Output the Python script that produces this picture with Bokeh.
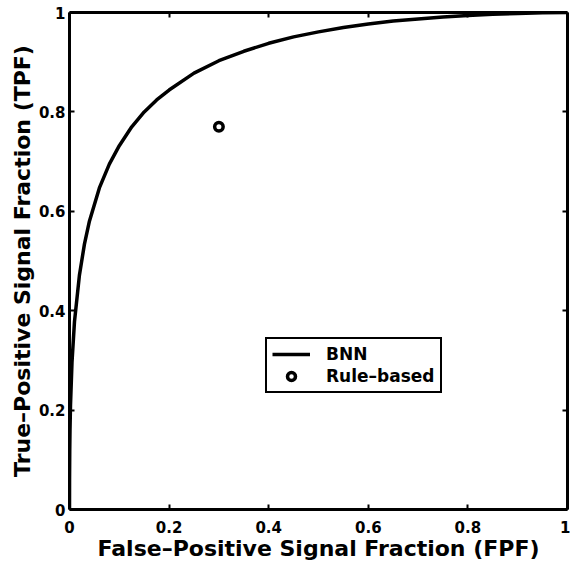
from bokeh.plotting import figure
from bokeh.models import LinearAxis, Legend, LegendItem, FixedTicker, Range1d
from bokeh.embed import file_html
from bokeh.resources import INLINE

# ---- data ----
bnn_fpf = [0.0, 0.0001, 0.0005, 0.001, 0.002, 0.005, 0.01, 0.02, 0.03, 0.04,
           0.06, 0.08, 0.10, 0.125, 0.15, 0.175, 0.20, 0.25, 0.30, 0.35,
           0.40, 0.45, 0.50, 0.55, 0.60, 0.65, 0.70, 0.75, 0.80, 0.85,
           0.90, 0.95, 1.0]
bnn_tpf = [0.0, 0.06, 0.12, 0.16, 0.21, 0.296, 0.378, 0.472, 0.534, 0.58,
           0.647, 0.695, 0.732, 0.77, 0.80, 0.824, 0.844, 0.878, 0.903, 0.922,
           0.938, 0.951, 0.961, 0.970, 0.977, 0.983, 0.987, 0.991, 0.994, 0.9964,
           0.9982, 0.9994, 1.0]
rule_fpf = [0.30]
rule_tpf = [0.77]
ticks = [0, 0.2, 0.4, 0.6, 0.8, 1]
tick_labels = ["0", "0.2", "0.4", "0.6", "0.8", "1"]
x_label = "False\u2013Positive Signal Fraction (FPF)"
y_label = "True\u2013Positive Signal Fraction (TPF)"
series_names = ["BNN", "Rule\u2013based"]

FONT = "DejaVu Sans"

p = figure(width=570, height=565, x_range=Range1d(0, 1), y_range=Range1d(0, 1),
           output_backend="svg", toolbar_location=None,
           x_axis_location=None, y_axis_location=None,
           min_border_left=69, min_border_right=3, min_border_top=12, min_border_bottom=56)
p.grid.visible = False
p.outline_line_color = None
p.background_fill_color = "white"
p.border_fill_color = "white"

overrides = {t: lab for t, lab in zip(ticks, tick_labels)}


def make_axis(label=None, show=True):
    ax = LinearAxis(ticker=FixedTicker(ticks=ticks), axis_label=label)
    ax.major_label_overrides = overrides
    ax.axis_line_width = 3
    ax.axis_line_color = "black"
    ax.major_tick_line_width = 2
    ax.major_tick_line_color = "black"
    ax.major_tick_in = 5
    ax.major_tick_out = 0
    ax.minor_tick_line_color = None
    if show:
        ax.major_label_text_font = FONT
        ax.major_label_text_font_style = "bold"
        ax.major_label_text_font_size = "15px"
        ax.major_label_text_color = "black"
        ax.axis_label_text_font = FONT
        ax.axis_label_text_font_style = "bold"
        ax.axis_label_text_font_size = "22px"
        ax.axis_label_text_color = "black"
    else:
        ax.major_label_text_font_size = "0px"
        ax.major_label_text_alpha = 0
        ax.major_label_standoff = 0
    return ax


bottom = make_axis(x_label)
bottom.major_label_standoff = 11
bottom.axis_label_standoff = 0
left = make_axis(y_label)
left.major_label_standoff = 4
left.axis_label_standoff = 1
top = make_axis(None, show=False)
right = make_axis(None, show=False)
p.add_layout(bottom, "below")
p.add_layout(left, "left")
p.add_layout(top, "above")
p.add_layout(right, "right")

r1 = p.line(bnn_fpf, bnn_tpf, line_width=3.5, line_color="black")
r2 = p.scatter(rule_fpf, rule_tpf, marker="circle", size=8.5, line_width=3.5,
               line_color="black", fill_color=None)

legend = Legend(items=[LegendItem(label=series_names[0], renderers=[r1]),
                       LegendItem(label=series_names[1], renderers=[r2])],
                location=(196, 116))
legend.label_text_font = FONT
legend.label_text_font_style = "bold"
legend.label_text_font_size = "17px"
legend.label_text_color = "black"
legend.border_line_color = "black"
legend.border_line_alpha = 1
legend.border_line_width = 2
legend.background_fill_color = "white"
legend.background_fill_alpha = 1
legend.padding = 5
legend.spacing = 2
legend.margin = 0
legend.glyph_width = 38
legend.glyph_height = 20
legend.label_height = 20
legend.label_standoff = 16
p.add_layout(legend)

open("out.html", "w").write(file_html(p, INLINE))
